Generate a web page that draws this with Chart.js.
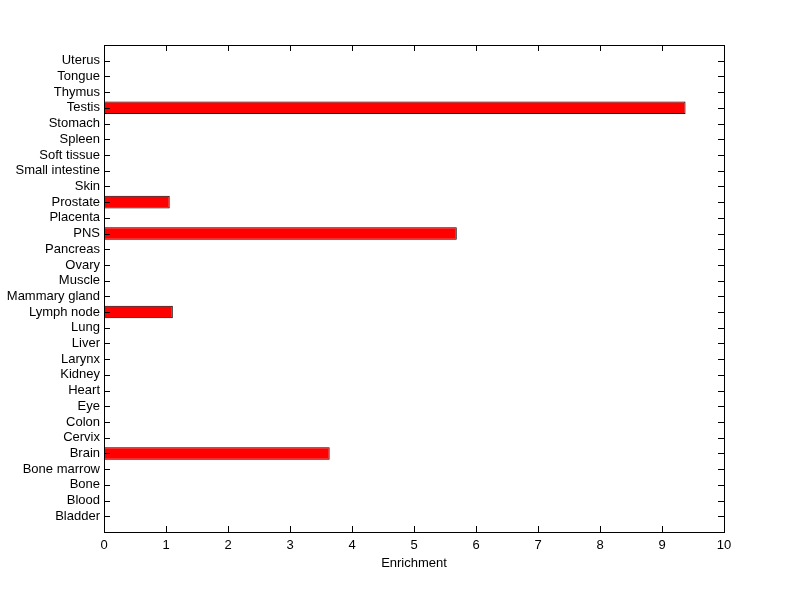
<!DOCTYPE html>
<html>
<head>
<meta charset="utf-8">
<script src="https://cdn.jsdelivr.net/npm/chart.js@4"></script>
<style>
  html, body { margin: 0; padding: 0; background: #ffffff; }
  #wrap { width: 800px; height: 599px; }
</style>
</head>
<body>
<div id="wrap"><canvas id="c" width="800" height="599"></canvas></div>
<script>
// Categories, bottom to top
const categories = ["Bladder", "Blood", "Bone", "Bone marrow", "Brain", "Cervix", "Colon", "Eye",
  "Heart", "Kidney", "Larynx", "Liver", "Lung", "Lymph node", "Mammary gland", "Muscle", "Ovary",
  "Pancreas", "PNS", "Placenta", "Prostate", "Skin", "Small intestine", "Soft tissue", "Spleen",
  "Stomach", "Testis", "Thymus", "Tongue", "Uterus"];
const enrichment = [0, 0, 0, 0, 3.64, 0, 0, 0,
  0, 0, 0, 0, 0, 1.11, 0, 0, 0,
  0, 5.69, 0, 1.06, 0, 0, 0, 0,
  0, 9.38, 0, 0, 0];
const xTicks = [0, 1, 2, 3, 4, 5, 6, 7, 8, 9, 10];
const xTitle = "Enrichment";

const FONT = { family: "'Liberation Sans', Arial, Helvetica, sans-serif", size: 13 };

const points = categories.map((c, i) => ({ x: enrichment[i], y: i + 1 }));

const framePlugin = {
  id: 'frame',
  afterDatasetsDraw(chart) {
    const { ctx, chartArea: a, scales } = chart;
    const tl = 6;
    ctx.save();
    ctx.strokeStyle = '#000';
    ctx.lineWidth = 1;
    ctx.beginPath();
    xTicks.forEach(v => {
      const px = Math.round(scales.x.getPixelForValue(v)) + 0.5;
      ctx.moveTo(px, a.bottom); ctx.lineTo(px, a.bottom - tl);
      ctx.moveTo(px, a.top); ctx.lineTo(px, a.top + tl);
    });
    categories.forEach((c, i) => {
      const py = Math.round(scales.y.getPixelForValue(i + 1)) + 0.5;
      ctx.moveTo(a.left, py); ctx.lineTo(a.left + tl, py);
      ctx.moveTo(a.right, py); ctx.lineTo(a.right - tl, py);
    });
    ctx.stroke();
    ctx.strokeRect(Math.round(a.left) + 0.5, Math.round(a.top) + 0.5,
      Math.round(a.right - a.left), Math.round(a.bottom - a.top));
    ctx.restore();
  }
};

new Chart(document.getElementById('c'), {
  type: 'bar',
  data: {
    datasets: [{
      data: points,
      backgroundColor: '#ff0000',
      borderColor: '#000000',
      borderWidth: 1,
      borderSkipped: false,
      categoryPercentage: 1.0,
      barPercentage: 0.8
    }]
  },
  options: {
    indexAxis: 'y',
    responsive: false,
    animation: false,
    layout: { padding: { left: 0, top: 45, right: 76, bottom: 0 } },
    plugins: { legend: { display: false }, tooltip: { enabled: false } },
    scales: {
      x: {
        type: 'linear',
        position: 'bottom',
        min: 0, max: 10,
        offset: false,
        grid: { display: false, drawTicks: false },
        border: { display: false },
        ticks: { stepSize: 1, color: '#000', font: FONT, padding: 6, maxRotation: 0 },
        title: { display: true, text: xTitle, color: '#000', font: FONT, padding: { top: 0, bottom: 28 } },
        afterFit(s) { s.height = 67; }
      },
      y: {
        type: 'linear',
        position: 'left',
        min: 0, max: 31,
        offset: false,
        grid: { display: false, drawTicks: false, offset: false },
        border: { display: false },
        afterBuildTicks(s) {
          s.ticks = categories.map((c, i) => ({ value: i + 1 }));
        },
        ticks: {
          autoSkip: false, color: '#000', font: FONT, padding: 4,
          callback: (v) => (v >= 1 && v <= categories.length) ? categories[v - 1] : ''
        },
        afterFit(s) { s.width = 104; }
      }
    }
  },
  plugins: [framePlugin]
});
</script>
</body>
</html>
